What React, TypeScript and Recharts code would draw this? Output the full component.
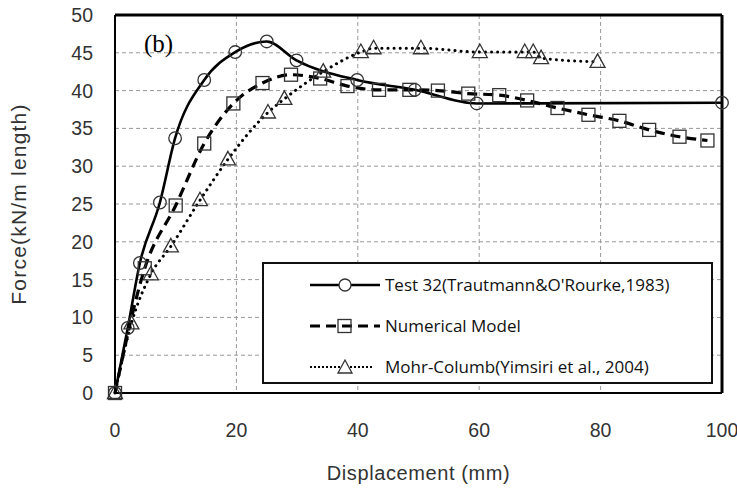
import React from 'react';
import { LineChart, Line, XAxis, YAxis, CartesianGrid, ReferenceLine } from 'recharts';

const seriesNames = [
  'Test 32(Trautmann&O\'Rourke,1983)',
  'Numerical Model',
  'Mohr-Columb(Yimsiri et al., 2004)',
];

const testX = [0, 2.1, 4.1, 7.4, 9.9, 14.7, 19.8, 25, 29.9, 39.9, 49.4, 59.6, 100];
const testY = [0, 8.6, 17.2, 25.2, 33.7, 41.4, 45.1, 46.5, 44.0, 41.4, 40.1, 38.3, 38.4];

const numX = [0, 4.9, 10, 14.7, 19.5, 24.3, 29, 33.8, 38.3, 43.5, 48.5, 53.2, 58.2, 63.3, 67.9, 72.9, 78, 83.1, 88, 93, 97.6];
const numY = [0, 16.5, 24.8, 33.0, 38.3, 41.0, 42.1, 41.6, 40.6, 40.1, 40.1, 40.0, 39.6, 39.4, 38.7, 37.7, 36.8, 36.0, 34.8, 33.9, 33.4];

const mohrX = [0, 2.7, 5.9, 9.2, 14, 18.6, 25.2, 27.9, 34.3, 40.5, 42.6, 50.4, 60.1, 67.5, 68.9, 70.2, 79.5];
const mohrY = [0, 9.2, 15.7, 19.4, 25.5, 30.9, 37.1, 38.9, 42.5, 45.1, 45.6, 45.6, 45.1, 45.1, 45.1, 44.3, 43.8];

const xTicks = [0, 20, 40, 60, 80, 100];
const yTicks = [0, 5, 10, 15, 20, 25, 30, 35, 40, 45, 50];

const toPoints = (xs: number[], ys: number[]) => xs.map((x, i) => ({ x, y: ys[i] }));

const testData = toPoints(testX, testY);
const numData = toPoints(numX, numY);
const mohrData = toPoints(mohrX, mohrY);

const mk = '#333';

const Circle = (p: any) => (
  <circle key={p.index} cx={p.cx} cy={p.cy} r={6.3} fill="none" stroke={mk} strokeWidth={1.3} />
);
const Square = (p: any) => (
  <rect key={p.index} x={p.cx - 6.5} y={p.cy - 6.5} width={13} height={13} fill="none" stroke={mk} strokeWidth={1.3} />
);
const Triangle = (p: any) => (
  <polygon
    key={p.index}
    points={`${p.cx},${p.cy - 8} ${p.cx - 7.5},${p.cy + 5.5} ${p.cx + 7.5},${p.cy + 5.5}`}
    fill="none"
    stroke={mk}
    strokeWidth={1.3}
  />
);

const sans = '"Liberation Sans", Arial, sans-serif';
const tickFont = { fontFamily: sans, fontSize: 19.5, fill: '#333' };
const titleFont = { fontFamily: sans, fontSize: 20, fill: '#333', letterSpacing: 0.6 };

const LegendRow = ({ kind, name }: { kind: number; name: string }) => (
  <div style={{ display: 'flex', alignItems: 'center', height: 41 }}>
    <svg width={74} height={20} style={{ marginLeft: 44 }}>
      {kind === 0 && <line x1={2} y1={10} x2={72} y2={10} stroke="#000" strokeWidth={2.5} />}
      {kind === 1 && <line x1={2} y1={10} x2={72} y2={10} stroke="#000" strokeWidth={3} strokeDasharray="10 6" />}
      {kind === 2 && <line x1={2} y1={10} x2={66} y2={10} stroke="#000" strokeWidth={2} strokeDasharray="2 2" />}
      {kind === 0 && <circle cx={37} cy={10} r={6} fill="#fff" stroke={mk} strokeWidth={1.3} />}
      {kind === 1 && <rect x={30} y={3.5} width={13} height={13} fill="none" stroke={mk} strokeWidth={1.3} />}
      {kind === 2 && <polygon points="37,3 30,16 44,16" fill="#fff" stroke={mk} strokeWidth={1.3} />}
    </svg>
    <span style={{ marginLeft: 3, fontFamily: '"Open Sans", sans-serif', fontSize: 17, color: '#111' }}>{name}</span>
  </div>
);

const App = () => {
  return (
    <div style={{ position: 'absolute', left: 0, top: 0, width: 737, height: 488, background: '#fff' }}>
      <LineChart width={737} height={488} margin={{ top: 15, right: 15, left: 0, bottom: 0 }}>
        <CartesianGrid stroke="#999" strokeDasharray="4 3" />
        <XAxis
          type="number"
          dataKey="x"
          domain={[0, 100]}
          ticks={xTicks}
          height={95}
          tickSize={0}
          tickMargin={30}
          tick={tickFont}
          axisLine={{ stroke: '#000', strokeWidth: 2 }}
          label={{
            content: (p: any) => {
              const vb = p.viewBox;
              return (
                <text x={vb.x + vb.width / 2} y={480} textAnchor="middle" style={titleFont}>
                  Displacement (mm)
                </text>
              );
            },
          }}
        />
        <YAxis
          type="number"
          dataKey="y"
          domain={[0, 50]}
          ticks={yTicks}
          width={115}
          tickSize={0}
          tickMargin={22}
          tick={tickFont}
          axisLine={{ stroke: '#000', strokeWidth: 2 }}
          label={{
            content: (p: any) => {
              const vb = p.viewBox;
              const cy = vb.y + vb.height / 2;
              return (
                <text
                  x={20}
                  y={cy}
                  transform={`rotate(-90 20 ${cy})`}
                  textAnchor="middle"
                  dominantBaseline="middle"
                  style={{ ...titleFont, fontSize: 21, letterSpacing: 1.2 }}
                >
                  Force(kN/m length)
                </text>
              );
            },
          }}
        />
        <ReferenceLine y={50} stroke="#000" strokeWidth={3} />
        <ReferenceLine x={100} stroke="#000" strokeWidth={3} />
        <Line
          data={mohrData}
          dataKey="y"
          type="monotone"
          stroke="#000"
          strokeWidth={3}
          strokeDasharray="0.1 6"
          strokeLinecap="round"
          dot={Triangle}
          isAnimationActive={false}
          name={seriesNames[2]}
        />
        <Line
          data={numData}
          dataKey="y"
          type="monotone"
          stroke="#000"
          strokeWidth={3.2}
          strokeDasharray="10 6"
          dot={Square}
          isAnimationActive={false}
          name={seriesNames[1]}
        />
        <Line
          data={testData}
          dataKey="y"
          type="monotone"
          stroke="#000"
          strokeWidth={2.6}
          dot={Circle}
          isAnimationActive={false}
          name={seriesNames[0]}
        />
      </LineChart>
      <div style={{ position: 'absolute', left: 144, top: 30, fontFamily: '"Liberation Serif", serif', fontSize: 25 }}>(b)</div>
      <div
        style={{
          position: 'absolute',
          left: 262,
          top: 262,
          width: 447,
          height: 118,
          border: '2px solid #111',
          background: '#fff',
          boxSizing: 'content-box',
        }}
      >
        {seriesNames.map((n, i) => (
          <LegendRow key={n} kind={i} name={n} />
        ))}
      </div>
    </div>
  );
};

export default App;
